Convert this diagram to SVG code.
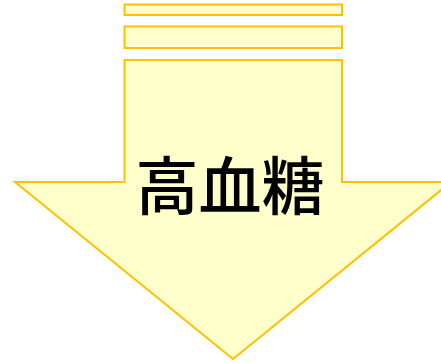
<svg xmlns="http://www.w3.org/2000/svg" width="441" height="363" viewBox="0 0 441 363">
<style>
.s{fill:#FFFFCC;stroke:#FFC000;stroke-width:2}
.t{font-family:"Noto Sans CJK JP","Noto Sans CJK SC",sans-serif;font-size:63px;font-weight:500;fill:#000;text-anchor:middle}
</style>
<g id="arrow">
<rect class="s" x="124.5" y="4.5" width="217.5" height="10.5"/>
<rect class="s" x="124.5" y="26.5" width="217.5" height="21.5"/>
<polygon class="s" points="124.5,60 342,60 342,182 451,182 233,359 15,182 124.5,182"/>
<text class="t" x="230" y="209">高血糖</text>
</g>
</svg>
